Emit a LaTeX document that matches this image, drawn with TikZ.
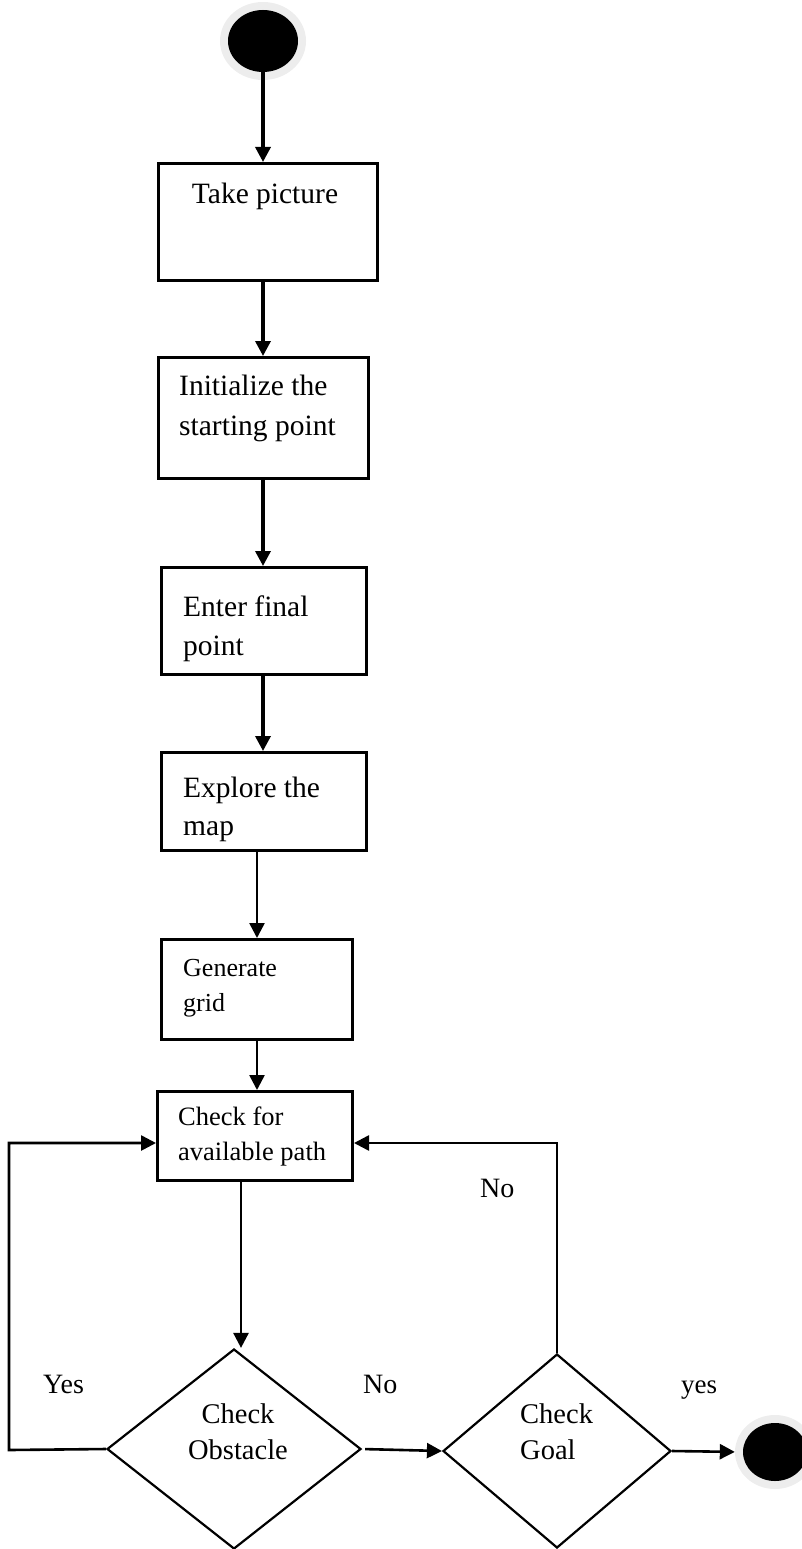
\documentclass[tikz,border=0pt]{standalone}
\usepackage{fontspec}
\setmainfont{Liberation Serif}
\usetikzlibrary{shapes.geometric,arrows.meta}

\definecolor{halo}{HTML}{EDEDED}

\tikzset{
  stepbox/.style={draw=black, line width=3pt, rectangle, inner sep=0pt,
    anchor=north west},
  decision/.style={draw=black, line width=2.2pt, diamond, inner sep=0pt},
  terminal/.style={ellipse, fill=black, inner sep=0pt,
    preaction={draw=halo, line width=16pt}},
  % multi-line text: the base anchor sits on the last line
  boxtext/.style={anchor=base west, align=left, inner sep=0pt},
  lbl/.style={anchor=base west, inner sep=0pt, font=\fontsize{28}{34}\selectfont},
  thickarrow/.style={line width=3.4pt, -{Triangle[length=15pt,width=15pt]}},
  arrow/.style={line width=2.6pt, -{Triangle[length=15pt,width=15pt]}},
}

\begin{document}
\begin{tikzpicture}[x=1pt, y=-1pt]
  \useasboundingbox (0,0) rectangle (801,1549);

  % start and end markers
  \node[terminal, minimum width=70pt, minimum height=62pt] (start) at (263,41) {};
  \node[terminal, minimum width=64pt, minimum height=58pt] (stop) at (775,1452) {};

  % process boxes (top-left corner, size)
  \node[stepbox, minimum width=219pt, minimum height=117pt] (b1) at (157,162) {};
  \node[stepbox, minimum width=210pt, minimum height=121pt] (b2) at (157,356) {};
  \node[stepbox, minimum width=205pt, minimum height=107pt] (b3) at (160,566) {};
  \node[stepbox, minimum width=205pt, minimum height=98pt]  (b4) at (160,751) {};
  \node[stepbox, minimum width=191pt, minimum height=100pt] (b5) at (160,938) {};
  \node[stepbox, minimum width=195pt, minimum height=89pt]  (b6) at (156,1090) {};

  % box texts
  \node[anchor=base, inner sep=0pt, font=\fontsize{29.5}{40}\selectfont] (t1) at (265,204) {Take picture};
  \node[boxtext, font=\fontsize{29.5}{39.5}\selectfont] (t2) at (179,435) {Initialize the\\starting point};
  \node[boxtext, font=\fontsize{29.5}{39}\selectfont] (t3) at (183,655) {Enter final\\point};
  \node[boxtext, font=\fontsize{29.5}{38}\selectfont] (t4) at (183,835) {Explore the\\map};
  \node[boxtext, font=\fontsize{26}{35}\selectfont] (t5) at (183,1011) {Generate\\grid};
  \node[boxtext, font=\fontsize{26.5}{35}\selectfont] (t6) at (178,1160) {Check for\\available path};

  % decisions
  \node[decision, minimum width=254pt, minimum height=200pt] (d1) at (234,1449) {};
  \node[decision, minimum width=228pt, minimum height=194pt] (d2) at (557,1451) {};
  \node[anchor=base, align=center, inner sep=0pt, font=\fontsize{28.5}{36}\selectfont] (t7) at (238,1459) {Check\\Obstacle};
  \node[boxtext, font=\fontsize{28.5}{36}\selectfont] (t8) at (520,1459) {Check\\Goal};

  % branch labels
  \node[lbl] (yes1) at (43,1393) {Yes};
  \node[lbl] (no1) at (363,1393) {No};
  \node[lbl] (no2) at (480,1197) {No};
  \node[lbl, font=\fontsize{27}{33}\selectfont] (yes2) at (681,1393) {yes};

  % loop corners
  \coordinate (lc1) at (9,1450);
  \coordinate (lc2) at (9,1143);
  \coordinate (rc1) at (557,1143);

  % main flow
  \draw[thickarrow] ([yshift=4pt]start.south) -- (b1.north -| start);
  \draw[thickarrow] (b1.south -| start) -- (b2.north -| start);
  \draw[thickarrow] (b2.south -| start) -- (b3.north -| start);
  \draw[thickarrow] (b3.south -| start) -- (b4.north -| start);
  \draw[arrow] (b4.south -| b5) -- (b5.north);
  \draw[arrow] (b5.south) -- (b6.north -| b5);
  \draw[arrow] ([xshift=7pt]b6.south -| d1.north) -- ([xshift=7pt]d1.north);

  % decision branches
  \draw[arrow] (d1.west) -- (lc1) -- (lc2) -- (b6.west |- lc2);
  \draw[arrow] (d2.north) -- (rc1) -- (b6.east |- rc1);
  \draw[arrow, shorten <=3pt] (d1.east) -- (d2.west);
  \draw[arrow, shorten >=8pt] (d2.east) -- (stop.west);
\end{tikzpicture}
\end{document}
